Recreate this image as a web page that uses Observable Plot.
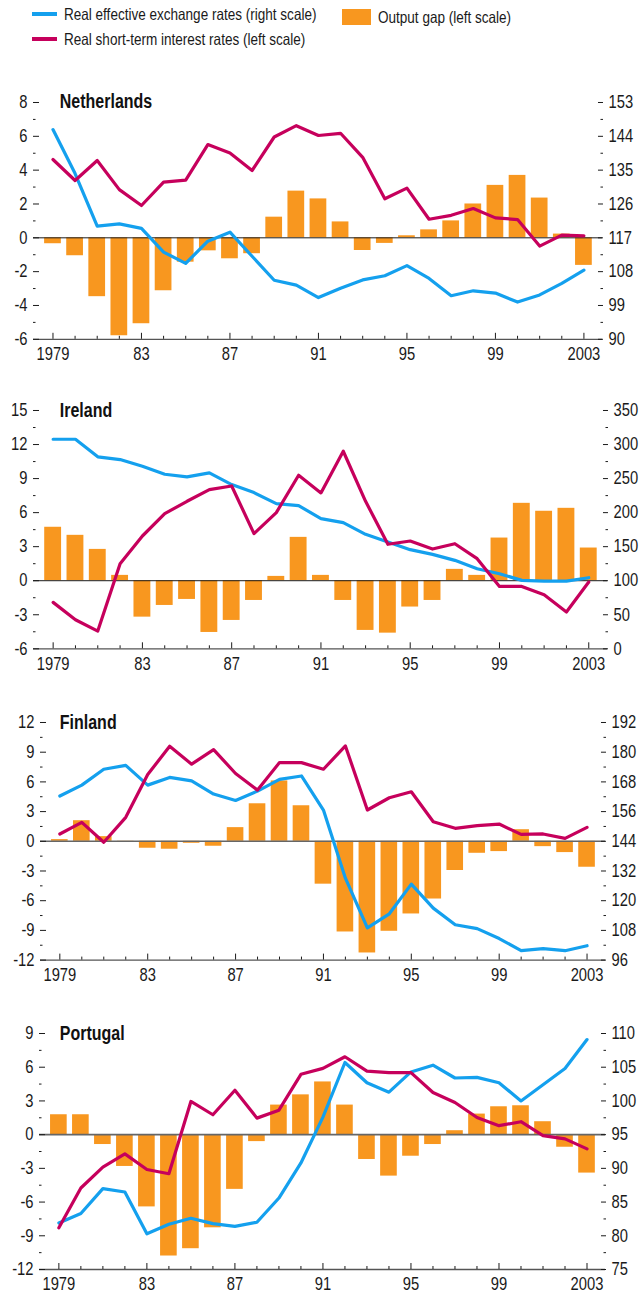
<!DOCTYPE html>
<html><head><meta charset="utf-8">
<script src="https://cdn.jsdelivr.net/npm/d3@7"></script>
<script src="https://cdn.jsdelivr.net/npm/@observablehq/plot@0.6"></script>
<style>
body{margin:0;background:#fff;font-family:"Liberation Sans",Arial,sans-serif;color:#1a1a1a}
#wrap{position:relative;width:641px;height:1293px;overflow:hidden}
.legend{position:absolute;height:20px;font-size:16.5px;display:flex;align-items:center;white-space:nowrap}
.legend span{display:inline-block;transform:scaleX(0.82);transform-origin:left center}
.sw-line{width:25px;height:3.5px;margin-right:7px;flex:none}
.sw-box{width:29px;height:16px;margin-right:7px;flex:none}
.panel{position:absolute;left:0}
.panel svg{overflow:visible}
</style></head><body><div id="wrap"></div>
<script>
const BLUE = "#14a0ee", MAGENTA = "#c6005c", ORANGE = "#f8971f";
const FONT = '"Liberation Sans",Arial,sans-serif';
const SQUEEZE = 0.82;

const years = d3.range(1979, 2004);
const xMajor = [1979, 1983, 1987, 1991, 1995, 1999, 2003];
const xMajorLabels = ["1979", "83", "87", "91", "95", "99", "2003"];

const legendLabels = ["Real effective exchange rates (right scale)", "Real short-term interest rates (left scale)", "Output gap (left scale)"];

// Netherlands
const nlGap = [-0.35,-1.06,-3.48,-5.79,-5.08,-3.13,-1.44,-0.77,-1.24,-0.94,1.22,2.76,2.30,0.94,-0.75,-0.33,0.12,0.47,1.0,2.0,3.1,3.69,2.35,0.22,-1.63];
const nlRate = [4.63,3.39,4.57,2.85,1.91,3.29,3.41,5.51,5.02,3.98,5.96,6.63,6.05,6.18,4.76,2.31,2.94,1.10,1.33,1.73,1.18,1.08,-0.49,0.16,0.12];
const nlReer = [145.8,134.1,120.1,120.7,119.5,113.2,110.2,116.1,118.5,112.1,105.7,104.4,101.1,103.6,105.8,106.9,109.6,106.2,101.6,102.9,102.3,99.9,101.8,104.9,108.4];
const nlLeftTicks = [-6,-4,-2,0,2,4,6,8];
const nlRightTicks = [90,99,108,117,126,135,144,153];

// Ireland
const ieGap = [4.71,4.0,2.76,0.47,-3.21,-2.18,-1.65,-4.56,-3.5,-1.74,0.38,3.82,0.47,-1.74,-4.38,-4.62,-2.32,-1.74,1.0,0.47,3.76,6.82,6.12,6.38,2.88];
const ieRate = [-1.91,-3.44,-4.44,1.5,3.94,5.91,7.0,8.03,8.35,4.15,6.0,9.29,7.74,11.41,7.0,3.21,3.5,2.79,3.26,1.94,-0.5,-0.5,-1.24,-2.76,-0.12];
const ieReer = [307.8,307.8,281.9,277.9,268.1,256.4,252.5,258.3,241.2,229.4,213.2,210.3,191.2,185.3,168.1,156.9,145.6,138.7,129.9,117.6,110.3,100.5,99.5,99.5,104.4];
const ieLeftTicks = [-6,-3,0,3,6,9,12,15];
const ieRightTicks = [0,50,100,150,200,250,300,350];

// Finland
const fiGap = [0.17,2.08,0.47,-0.1,-0.7,-0.8,-0.2,-0.5,1.38,3.79,6.1,3.59,-4.33,-9.16,-11.28,-9.09,-7.34,-5.83,-2.95,-1.21,-1.04,1.17,-0.54,-1.14,-2.62];
const fiRate = [0.74,1.91,-0.1,2.42,6.74,9.6,7.79,9.26,6.85,5.17,7.95,7.95,7.28,9.63,3.16,4.40,5.0,1.98,1.31,1.58,1.74,0.70,0.74,0.30,1.41];
const fiReer = [162.3,166.7,173.1,174.7,166.7,169.8,168.4,163.1,160.5,164.3,169.0,170.4,156.6,129.1,109.0,114.7,126.7,117.0,110.3,108.7,104.7,99.8,100.6,99.8,101.8];
const fiLeftTicks = [-12,-9,-6,-3,0,3,6,9,12];
const fiRightTicks = [96,108,120,132,144,156,168,180,192];

// Portugal
const ptGap = [1.77,1.77,-0.88,-2.83,-6.43,-10.8,-10.15,-8.29,-4.87,-0.62,2.63,3.54,4.69,2.63,-2.21,-3.69,-1.92,-0.88,0.35,1.83,2.48,2.57,1.15,-1.12,-3.42];
const ptRate = [-8.29,-4.75,-2.89,-1.71,-3.1,-3.48,2.95,1.77,3.95,1.47,2.18,5.37,5.9,6.93,5.66,5.52,5.52,3.75,2.86,1.53,0.8,1.15,-0.09,-0.38,-1.27];
const ptReer = [81.9,83.3,87.0,86.5,80.3,81.7,82.6,81.8,81.4,82.0,85.6,90.8,97.6,105.7,102.7,101.3,104.3,105.3,103.4,103.5,102.7,100.0,102.4,104.8,109.1];
const ptLeftTicks = [-12,-9,-6,-3,0,3,6,9];
const ptRightTicks = [75,80,85,90,95,100,105,110];

const panels = [
  {name:"Netherlands", gap:nlGap, rate:nlRate, reer:nlReer, left:nlLeftTicks, right:nlRightTicks, top:101.7, h:236.8, ml:33, mr:39, zero:"#1a1a1a", zw:1, tdy:-1},
  {name:"Ireland", gap:ieGap, rate:ieRate, reer:ieReer, left:ieLeftTicks, right:ieRightTicks, top:410, h:238.3, ml:33, mr:34, zero:"#1a1a1a", zw:1, tdy:0},
  {name:"Finland", gap:fiGap, rate:fiRate, reer:fiReer, left:fiLeftTicks, right:fiRightTicks, top:721.7, h:237.6, ml:40, mr:36, zero:"#666", zw:1.6, tdy:0},
  {name:"Portugal", gap:ptGap, rate:ptRate, reer:ptReer, left:ptLeftTicks, right:ptRightTicks, top:1033.3, h:236, ml:39, mr:36, zero:"#666", zw:1.6, tdy:0}
];

const wrap = document.getElementById("wrap");

// Legend
function legendItem(label, swClass, color, left, cy) {
  const d = document.createElement("div");
  d.className = "legend";
  d.style.left = left + "px";
  d.style.top = (cy - 10) + "px";
  const s = document.createElement("div");
  s.className = swClass;
  s.style.background = color;
  d.appendChild(s);
  const t = document.createElement("span");
  t.textContent = label;
  d.appendChild(t);
  wrap.appendChild(d);
}
legendItem(legendLabels[0], "sw-line", BLUE, 32, 14);
legendItem(legendLabels[1], "sw-line", MAGENTA, 32, 39);
legendItem(legendLabels[2], "sw-box", ORANGE, 342, 17);

const mid = a => a.slice(1).map((v, i) => (v + a[i]) / 2);
const xMinor = years.filter(y => !xMajor.includes(y));
const MT = 14, MB = 30;

function condense(svg) {
  svg.querySelectorAll("text").forEach(t => {
    const tr = t.getAttribute("transform") || "";
    t.setAttribute("transform", (tr + ` scale(${SQUEEZE},1)`).trim());
  });
}

for (const p of panels) {
  const lmin = p.left[0], lmax = p.left[p.left.length - 1];
  const rmin = p.right[0], rmax = p.right[p.right.length - 1];
  const toLeft = r => lmin + (r - rmin) * (lmax - lmin) / (rmax - rmin);
  const toRight = l => rmin + (l - lmin) * (rmax - rmin) / (lmax - lmin);
  const data = years.map((year, i) => ({year, gap: p.gap[i], rate: p.rate[i], reer: p.reer[i]}));

  const chart = Plot.plot({
    width: 641,
    height: MT + p.h + MB,
    marginTop: MT, marginBottom: MB, marginLeft: p.ml, marginRight: p.mr,
    style: {fontFamily: FONT, fontSize: "18px", color: "#1a1a1a", background: "transparent", overflow: "visible"},
    x: {domain: [1978.12, 2003.84], label: null},
    y: {domain: [lmin, lmax], label: null},
    marks: [
      Plot.rect(data, {x1: d => d.year - 0.378, x2: d => d.year + 0.378, y1: d => 0, y2: "gap", fill: ORANGE}),
      Plot.ruleY([0], {stroke: p.zero, strokeWidth: p.zw}),
      Plot.ruleY([lmin], {stroke: "#555", strokeWidth: 1.3}),
      Plot.axisY(p.left, {anchor: "left", label: null, tickSize: -6, tickPadding: 12, tickFormat: d => String(d), fontSize: 18}),
      Plot.axisY(mid(p.left), {anchor: "left", label: null, tickSize: -2.5, tickFormat: () => ""}),
      Plot.axisY(p.right.map(toLeft), {anchor: "right", label: null, tickSize: -5, tickPadding: 11, tickFormat: v => String(Math.round(toRight(v))), fontSize: 18}),
      Plot.axisY(mid(p.right).map(toLeft), {anchor: "right", label: null, tickSize: -2.5, tickFormat: () => ""}),
      Plot.axisX(xMajor, {anchor: "bottom", label: null, tickSize: -6, tickPadding: 14, tickFormat: d => xMajorLabels[xMajor.indexOf(d)], fontSize: 18}),
      Plot.axisX(xMinor, {anchor: "bottom", label: null, tickSize: -3, tickFormat: () => ""}),
      Plot.line(data, {x: "year", y: d => toLeft(d.reer), stroke: BLUE, strokeWidth: 3.2, strokeLinejoin: "round"}),
      Plot.line(data, {x: "year", y: "rate", stroke: MAGENTA, strokeWidth: 3.2, strokeLinejoin: "round"}),
      Plot.text([p.name], {frameAnchor: "top-left", dx: 59.3 - p.ml, dy: p.tdy, lineAnchor: "middle", textAnchor: "start", fontWeight: "bold", fontSize: 19.5, fill: "#111"})
    ]
  });
  condense(chart);
  const holder = document.createElement("div");
  holder.className = "panel";
  holder.style.top = (p.top - MT) + "px";
  holder.appendChild(chart);
  wrap.appendChild(holder);
}
</script>
</body></html>
